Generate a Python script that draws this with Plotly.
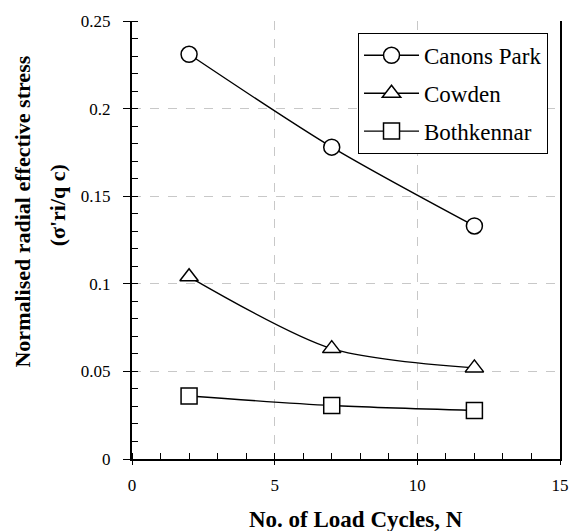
import plotly.graph_objects as go

# Number of load cycles at which each site was measured
cycles = [2, 7, 12]

# Normalised radial effective stress (sigma'ri / qc) per site
canons_park = [0.231, 0.178, 0.133]
cowden = [0.104, 0.063, 0.052]
bothkennar = [0.036, 0.0305, 0.0277]

series = [
    ("Canons Park", canons_park, "circle", 16),
    ("Cowden", cowden, "triangle-up", 16),
    ("Bothkennar", bothkennar, "square", 16),
]

FONT = "Times New Roman, Liberation Serif, serif"

fig = go.Figure()
for name, vals, symbol, size in series:
    fig.add_trace(go.Scatter(
        x=cycles, y=vals, name=name, legendgroup=name,
        mode="lines+markers",
        line=dict(color="black", width=1.4, shape="spline", smoothing=0.8),
        marker=dict(symbol=symbol, size=size, color="white",
                    line=dict(color="black", width=1.5)),
    ))

grid = dict(showgrid=True, gridcolor="#c8c8c8", gridwidth=1, griddash="dash")

# y-axis title is drawn as two rotated lines so their spacing can be set
y_title_lines = [
    ("<b>Normalised radial effective stress</b>", -0.256, 0.566),
    ("<b>(σ'ri/q c)</b>", -0.174, 0.578),
]

annotations = [
    dict(text="<b>No. of Load Cycles, N</b>", xref="paper", yref="paper",
         x=0.524, y=-0.138, xanchor="center", yanchor="middle",
         showarrow=False, font=dict(family=FONT, size=23)),
]
for text, ax, ay in y_title_lines:
    annotations.append(dict(
        text=text, xref="paper", yref="paper", x=ax, y=ay,
        xanchor="center", yanchor="middle", textangle=-90,
        showarrow=False, font=dict(family=FONT, size=22),
    ))

fig.update_layout(
    width=581, height=531,
    margin=dict(l=132, r=18, t=17, b=72),
    paper_bgcolor="white", plot_bgcolor="white",
    font=dict(family=FONT, size=17, color="black"),
    showlegend=True,
    legend=dict(
        x=0.972, y=0.973, xanchor="right", yanchor="top",
        bordercolor="black", borderwidth=1, bgcolor="white",
        font=dict(family=FONT, size=23),
        itemwidth=55, tracegroupgap=5,
    ),
    xaxis=dict(
        range=[0, 15], tickvals=[0, 5, 10, 15],
        showline=True, linecolor="black", linewidth=2, mirror=False,
        ticks="outside", ticklen=4, tickcolor="black", ticklabelstandoff=6,
        minor=dict(dtick=1, ticks="inside", ticklen=6, tickcolor="black", showgrid=False),
        zeroline=False, **grid,
    ),
    yaxis=dict(
        range=[0, 0.25], tickvals=[0, 0.05, 0.1, 0.15, 0.2, 0.25],
        showline=True, linecolor="black", linewidth=2, mirror=True,
        ticks="outside", ticklen=7, tickcolor="black", ticklabelstandoff=9,
        minor=dict(dtick=0.01, ticks="inside", ticklen=6, tickcolor="black", showgrid=False),
        zeroline=False, **grid,
    ),
    annotations=annotations,
)

fig.write_html("out.html")
